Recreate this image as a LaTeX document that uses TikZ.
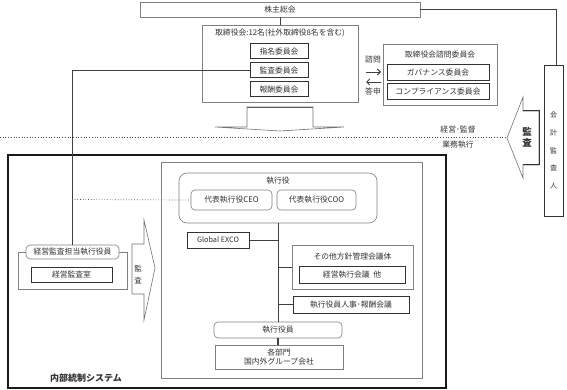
\documentclass[tikz,border=0pt]{standalone}
\usepackage{fontspec}
\setmainfont{Noto Sans CJK JP}
\usetikzlibrary{arrows.meta}
\begin{document}
\begin{tikzpicture}[x=1pt,y=-1pt,
  txt/.style={text=black!80, font=\fontsize{7.8}{9}\selectfont, inner sep=0pt},
  thinbox/.style={draw=black!50, line width=0.6pt, fill=white, inner sep=0pt, text=black!80, font=\fontsize{7.8}{9}\selectfont},
  darkbox/.style={draw=black!80, line width=1pt, fill=white, inner sep=0pt, text=black!80, font=\fontsize{7.8}{9}\selectfont},
  rbox/.style={thinbox, rounded corners=4pt},
  conn/.style={draw=black!75, line width=0.9pt},
  dotline/.style={draw=black!70, line width=0.7pt, dotted},
  garrow/.style={draw=black!55, line width=0.6pt, fill=white}
]
\useasboundingbox (0,0) rectangle (567,390);

% top area
\node[thinbox, minimum width=280pt, minimum height=15pt] (gm) at (280,9.5) {株主総会};
\node[thinbox, minimum width=156pt, minimum height=77pt] (board) at (280,63.5) {};
\node[txt] (boardt) at (280,33) {取締役会:12名(社外取締役8名を含む)};
\node[darkbox, minimum width=58pt, minimum height=15pt] (shimei) at (279,51.5) {指名委員会};
\node[darkbox, minimum width=58pt, minimum height=15pt] (kansa) at (279,70.5) {監査委員会};
\node[darkbox, minimum width=58pt, minimum height=15pt] (hoshu) at (279,89.5) {報酬委員会};

\node[txt] (shimon) at (373,60) {諮問};
\node[txt] (toshin) at (373,91) {答申};
\coordinate (a1) at (366,72); \coordinate (a2) at (381,72);
\coordinate (b1) at (381,82); \coordinate (b2) at (366,82);
\draw[conn, -{Straight Barb[length=3pt,width=6pt]}] (a1) -- (a2);
\draw[conn, -{Straight Barb[length=3pt,width=6pt]}] (b1) -- (b2);

\node[thinbox, minimum width=114pt, minimum height=61pt] (adv) at (440,74.5) {};
\node[txt] (advt) at (440,55) {取締役会諮問委員会};
\node[darkbox, minimum width=102pt, minimum height=16pt] (gov) at (438,73) {ガバナンス委員会};
\node[darkbox, minimum width=102pt, minimum height=16pt] (comp) at (438,92) {コンプライアンス委員会};

\node[darkbox, minimum width=19pt, minimum height=150pt] (aud) at (553.5,141) {};
\node[txt, align=center, font=\fontsize{7}{17.8}\selectfont] (audt) at (553.5,150.5) {会\\計\\監\\査\\人};

\coordinate (c1) at (556,9.5);
\draw[conn] (gm.east) -- (c1) -- (c1 |- aud.north);
\draw[conn] (gm.south) -- (board.north);

% board down arrow
\draw[garrow] (247,107) -- (247,127) -- (215,127) -- (280,131) -- (344,127) -- (313,127) -- (313,107) -- cycle;
\draw[draw=black!65, line width=1.8pt] (247,107.5) -- (313,107.5);

% separator
\coordinate (d1) at (0,137);
\coordinate (d2) at (506,137);
\draw[dotline] (d1) -- (d2);
\node[txt] (keiei) at (458,130) {経営･監督};
\node[txt] (gyomu) at (458,145) {業務執行};

% left big arrow
\draw[garrow] (507,138) -- (523,97) -- (523,111) -- (539,111) -- (539,165) -- (523,165) -- (523,178) -- cycle;
\draw[draw=black!80, line width=1pt] (523,111) -- (539,111) -- (539,165) -- (523,165);
\node[txt, align=center, font=\bfseries\fontsize{9.5}{11}\selectfont] (kansa2) at (527,137.5) {監\\査};

% internal control
\draw[draw=black!90, line width=1.8pt] (8,155) rectangle (446,388);
\node[txt, font=\bfseries\fontsize{9}{10}\selectfont] (naibu) at (86,378) {内部統制システム};
\node[thinbox, minimum width=261pt, minimum height=216pt] (exec) at (291.5,270) {};

\node[rbox, rounded corners=8pt, minimum width=198pt, minimum height=50pt] (shikkoyaku) at (278,198) {};
\node[txt] (shikt) at (278,181) {執行役};
\node[rbox, minimum width=81pt, minimum height=20pt] (ceo) at (231.5,200) {代表執行役CEO};
\node[rbox, minimum width=79pt, minimum height=20pt] (coo) at (316.5,200) {代表執行役COO};

\node[darkbox, minimum width=62pt, minimum height=16pt, font=\fontsize{7.3}{8}\selectfont] (exco) at (218,240) {Global EXCO};

\node[thinbox, minimum width=121pt, minimum height=44pt] (other) at (352.5,267) {};
\node[txt] (othert) at (352.5,257) {その他方針管理会議体};
\node[darkbox, minimum width=106pt, minimum height=17pt] (keieishikko) at (352,274.5) {経営執行会議\ \ 他};
\node[darkbox, minimum width=116pt, minimum height=17pt] (jinji) at (351,304.5) {執行役員人事･報酬会議};

\node[rbox, minimum width=128pt, minimum height=16pt] (yakuin) at (278,330) {執行役員};
\node[thinbox, minimum width=128pt, minimum height=24pt, align=center, font=\fontsize{7.8}{9.5}\selectfont] (bumon) at (279,357) {各部門\\国内外グループ会社};

\coordinate (t1) at (278,240);
\coordinate (t2) at (278,267);
\coordinate (t3) at (278,304.5);
\draw[conn] (shikkoyaku.south) -- (yakuin.north);
\draw[conn] (exco.east) -- (t1);
\draw[conn] (t2) -- (t2 -| other.west);
\draw[conn] (t3) -- (jinji.west);
\draw[conn, line width=1.4pt] (yakuin.south) -- (yakuin.south |- bumon.north);

% audit department
\node[thinbox, minimum width=109pt, minimum height=37pt] (auframe) at (72.5,270.5) {};
\node[rbox, minimum width=93pt, minimum height=14pt] (autan) at (72.5,252) {経営監査担当執行役員};
\node[darkbox, minimum width=81pt, minimum height=15pt] (aushitsu) at (71.5,274.5) {経営監査室};

\draw[garrow] (132,244) -- (144,244) -- (144,220) -- (155,268) -- (144,320) -- (144,294) -- (132,294) -- cycle;
\node[txt, align=center, font=\fontsize{7.5}{12}\selectfont] (kansa3) at (138,275) {監\\査};

% connectors from audit committee
\coordinate (k1) at (72,70.5);
\coordinate (k2) at (72,199.5);
\draw[conn] (kansa.west) -- (k1) -- (autan.north -| k1);
\draw[dotline] (k2) -- (ceo.west);
\end{tikzpicture}
\end{document}
